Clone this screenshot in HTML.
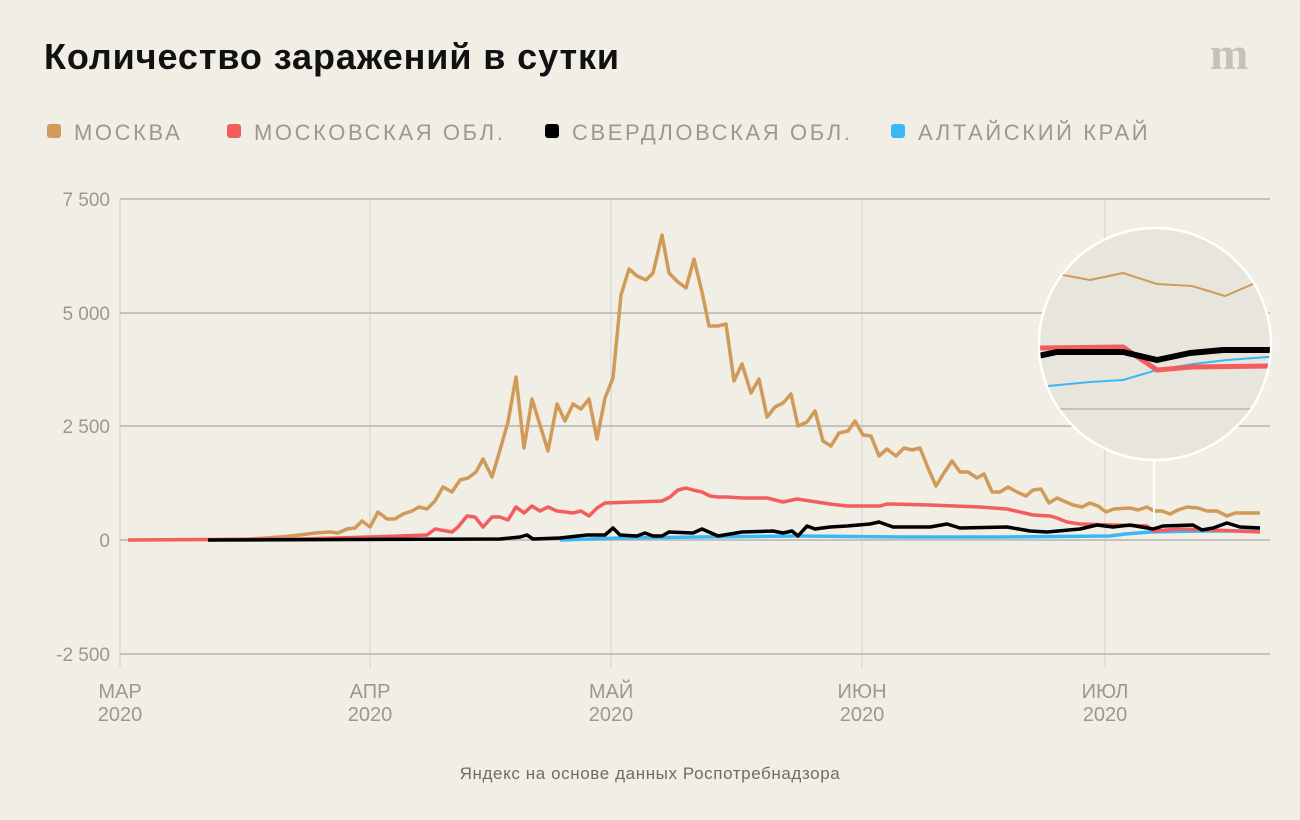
<!DOCTYPE html>
<html><head><meta charset="utf-8"><style>
html,body{margin:0;padding:0;background:#f1eee6;}
body{width:1300px;height:820px;overflow:hidden;position:relative;font-family:"Liberation Sans",sans-serif;}
</style></head><body>
<svg width="1300" height="820" xmlns="http://www.w3.org/2000/svg" style="position:absolute;left:0;top:0">
<text x="44" y="69" font-size="36" font-weight="bold" fill="#111" letter-spacing="0.9" font-family="Liberation Sans, sans-serif">Количество заражений в сутки</text>
<text x="1210" y="69" font-size="46" font-weight="bold" fill="#c4c1bb" font-family="Liberation Serif, serif">m</text>
<g font-size="22" fill="#9a9894" letter-spacing="2.6" font-family="Liberation Sans, sans-serif">
<rect x="47" y="124" width="14" height="14" rx="3" fill="#d09a58"/><text x="74" y="140">МОСКВА</text>
<rect x="227" y="124" width="14" height="14" rx="3" fill="#f45d5d"/><text x="254" y="140">МОСКОВСКАЯ ОБЛ.</text>
<rect x="545" y="124" width="14" height="14" rx="3" fill="#000"/><text x="572" y="140">СВЕРДЛОВСКАЯ ОБЛ.</text>
<rect x="891" y="124" width="14" height="14" rx="3" fill="#3ab8f5"/><text x="918" y="140">АЛТАЙСКИЙ КРАЙ</text>
</g>
<g stroke="#dcdad6" stroke-width="1.5">
<line x1="120" y1="199" x2="120" y2="668"/><line x1="370" y1="199" x2="370" y2="668"/><line x1="611" y1="199" x2="611" y2="668"/><line x1="862" y1="199" x2="862" y2="668"/><line x1="1105" y1="199" x2="1105" y2="668"/>
</g>
<g stroke="#c4c2bf" stroke-width="2">
<line x1="120" y1="199" x2="1270" y2="199"/><line x1="120" y1="313" x2="1270" y2="313"/><line x1="120" y1="426" x2="1270" y2="426"/><line x1="120" y1="540" x2="1270" y2="540"/><line x1="120" y1="654" x2="1270" y2="654"/>
</g>
<g font-size="19" fill="#9a9894" text-anchor="end" font-family="Liberation Sans, sans-serif">
<text x="110" y="206">7 500</text><text x="110" y="320">5 000</text><text x="110" y="433">2 500</text><text x="110" y="547">0</text><text x="110" y="661">-2 500</text>
</g>
<g font-size="20" fill="#9a9894" text-anchor="middle" font-family="Liberation Sans, sans-serif">
<text x="120" y="698">МАР</text><text x="120" y="721">2020</text>
<text x="370" y="698">АПР</text><text x="370" y="721">2020</text>
<text x="611" y="698">МАЙ</text><text x="611" y="721">2020</text>
<text x="862" y="698">ИЮН</text><text x="862" y="721">2020</text>
<text x="1105" y="698">ИЮЛ</text><text x="1105" y="721">2020</text>
</g>
<text x="650" y="779" font-size="17" fill="#6e6c68" text-anchor="middle" letter-spacing="0.6" font-family="Liberation Sans, sans-serif">Яндекс на основе данных Роспотребнадзора</text>
<g fill="none" stroke-linejoin="round">
<polyline stroke="#3ab8f5" stroke-width="3.5" points="560,540 620,538 700,537 800,536 900,537 1000,537 1110,536 1125,534 1150,532 1200,531 1260,531"/>
<polyline stroke="#d09a58" stroke-width="3.5" points="208,540 250,539 280,537 300,535 315,533 330,532 338,533 347,529 355,528 362,521 370,527 378,512 387,519 395,519 403,514 412,511 419,507 427,509 435,501 443,487 452,492 460,480 468,478 476,472 483,459 492,477 500,450 508,422 516,377 524,448 532,399 540,425 548,451 557,404 565,421 573,404 581,409 589,399 597,439 605,398 613,378 621,295 629,269 637,276 646,280 653,273 662,235 669,273 678,282 686,288 694,259 702,292 709,326 718,326 726,324 734,381 742,364 751,393 759,379 767,417 775,407 783,403 791,394 798,426 807,422 815,411 823,441 831,446 839,433 848,431 855,421 863,435 871,436 879,456 887,449 896,456 904,448 912,450 920,448 928,468 936,486 944,473 952,461 960,472 968,472 977,478 984,474 992,492 1000,492 1008,487 1017,492 1026,496 1033,490 1041,489 1049,503 1057,498 1066,502 1073,505 1082,507 1090,503 1098,506 1106,512 1114,509 1130,508 1138,510 1147,507 1154,511 1162,511 1170,514 1178,510 1187,507 1198,508 1207,511 1217,511 1227,516 1235,513 1247,513 1260,513"/>
<polyline stroke="#f45d5d" stroke-width="3.5" points="128,540 300,539 370,537 427,535 435,529 452,532 458,527 467,516 475,517 483,527 492,517 500,517 508,520 516,507 524,513 532,506 540,511 548,507 557,511 565,512 573,513 581,511 589,516 597,508 605,503 662,501 670,497 678,490 686,488 693,490 702,492 710,496 718,497 727,497 743,498 767,498 783,502 797,499 830,504 847,506 880,506 887,504 930,505 980,507 1007,509 1033,515 1050,516 1057,518 1067,522 1080,524 1113,525 1147,526 1153,531 1180,529 1213,530 1260,532"/>
<polyline stroke="#000" stroke-width="3.5" points="208,540 500,539 520,537 527,535 533,539 560,538 587,535 605,535 613,528 620,535 637,536 645,533 653,536 662,536 669,532 693,533 702,529 718,536 742,532 773,531 783,533 792,531 798,536 807,526 815,529 830,527 847,526 870,524 879,522 893,527 930,527 947,524 960,528 1007,527 1030,531 1047,532 1080,529 1097,525 1113,527 1130,525 1153,529 1163,526 1193,525 1202,530 1213,528 1227,523 1240,527 1260,528"/>
</g>
<line x1="1154" y1="460" x2="1154" y2="522" stroke="#fff" stroke-width="2"/>
<defs><clipPath id="c"><circle cx="1155" cy="344" r="115"/></clipPath></defs>
<circle cx="1155" cy="344" r="116" fill="#e8e5dd" stroke="#fff" stroke-width="2.5"/>
<g clip-path="url(#c)" fill="none" stroke-linejoin="round">
<line x1="1030" y1="409" x2="1280" y2="409" stroke="#c4c2bf" stroke-width="2"/>
<polyline stroke="#d09a58" stroke-width="2" points="1040,272 1063,275 1090,280 1123,273 1157,284 1192,286 1225,296 1253,284 1270,278"/>
<polyline stroke="#3ab8f5" stroke-width="2" points="1040,388 1048,386 1090,382 1123,380 1157,370 1193,364 1227,360 1268,357 1272,357"/>
<polyline stroke="#f45d5d" stroke-width="5" points="1038,348 1123,347 1157,370 1192,367 1272,366"/>
<polyline stroke="#000" stroke-width="6" points="1038,356 1057,352 1123,352 1157,360 1190,353 1223,350 1272,350"/>
</g>
</svg>
</body></html>
